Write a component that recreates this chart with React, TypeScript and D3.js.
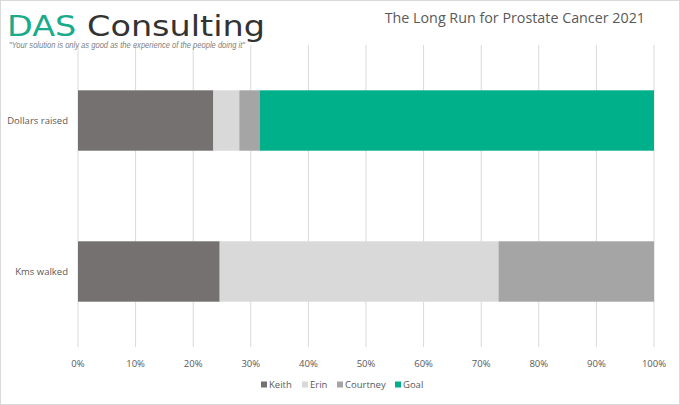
import React, { useEffect, useRef } from "react";
import * as d3 from "d3";

const categories = ["Dollars raised", "Kms walked"];
const seriesNames = ["Keith", "Erin", "Courtney", "Goal"];
const colors = ["#767171", "#d9d9d9", "#a5a5a5", "#00b08b"];
// share of each row, in percent
const keith = [23.5, 24.6];
const erin = [4.5, 48.4];
const courtney = [3.6, 27.0];
const goal = [68.4, 0];
const ticks = [0, 0.1, 0.2, 0.3, 0.4, 0.5, 0.6, 0.7, 0.8, 0.9, 1];

const W = 680;
const H = 405;

export default function App() {
  const svgRef = useRef(null);

  useEffect(() => {
    document.body.style.margin = "0";
    const svg = d3.select(svgRef.current);
    svg.selectAll("*").remove();

    const font = "'Open Sans', 'Noto Sans', sans-serif";
    const m = { left: 78, right: 26, top: 45, bottom: 58 };

    svg
      .append("rect")
      .attr("x", 0.5)
      .attr("y", 0.5)
      .attr("width", W - 1)
      .attr("height", H - 1)
      .attr("fill", "#fff")
      .attr("stroke", "#d9d9d9");

    const x = d3.scaleLinear().domain([0, 1]).range([m.left, W - m.right]);
    const y = d3
      .scaleBand()
      .domain(categories)
      .range([m.top, H - m.bottom])
      .paddingInner(0.6)
      .paddingOuter(0.3);

    // gridlines
    svg
      .append("g")
      .selectAll("line")
      .data(ticks)
      .join("line")
      .attr("x1", (d) => x(d))
      .attr("x2", (d) => x(d))
      .attr("y1", m.top)
      .attr("y2", H - m.bottom)
      .attr("stroke", "#d9d9d9")
      .attr("stroke-width", 1);

    // stacked rows
    const rows = categories.map((c, i) => ({
      cat: c,
      Keith: keith[i],
      Erin: erin[i],
      Courtney: courtney[i],
      Goal: goal[i],
    }));
    const stack = d3.stack().keys(seriesNames).offset(d3.stackOffsetExpand);
    const layers = stack(rows);

    svg
      .append("g")
      .selectAll("g")
      .data(layers)
      .join("g")
      .attr("fill", (d, i) => colors[i])
      .selectAll("rect")
      .data((d) => d)
      .join("rect")
      .attr("x", (d) => x(d[0]))
      .attr("width", (d) => Math.max(0, x(d[1]) - x(d[0])))
      .attr("y", (d) => y(d.data.cat))
      .attr("height", y.bandwidth());

    // category labels
    svg
      .append("g")
      .selectAll("text")
      .data(categories)
      .join("text")
      .attr("x", m.left - 10)
      .attr("y", (d) => y(d) + y.bandwidth() / 2)
      .attr("dy", "0.35em")
      .attr("text-anchor", "end")
      .attr("font-family", font)
      .attr("font-size", 9.5)
      .attr("fill", "#595959")
      .text((d) => d);

    // x tick labels
    svg
      .append("g")
      .selectAll("text")
      .data(ticks)
      .join("text")
      .attr("x", (d) => x(d))
      .attr("y", H - m.bottom + 20)
      .attr("text-anchor", "middle")
      .attr("font-family", font)
      .attr("font-size", 9.5)
      .attr("fill", "#595959")
      .text((d) => d3.format(".0%")(d));

    // legend
    const legendX = [261, 302, 337, 395];
    const lg = svg
      .append("g")
      .selectAll("g")
      .data(seriesNames)
      .join("g")
      .attr("transform", (d, i) => `translate(${legendX[i]},385)`);
    lg.append("rect")
      .attr("x", 0)
      .attr("y", -3.5)
      .attr("width", 6)
      .attr("height", 6)
      .attr("fill", (d, i) => colors[i]);
    lg.append("text")
      .attr("x", 8)
      .attr("dy", "0.35em")
      .attr("font-family", font)
      .attr("font-size", 9.5)
      .attr("fill", "#595959")
      .text((d) => d);

    // title
    svg
      .append("text")
      .attr("x", 645)
      .attr("y", 23)
      .attr("text-anchor", "end")
      .attr("font-family", font)
      .attr("font-size", 14.3)
      .attr("fill", "#595959")
      .text("The Long Run for Prostate Cancer 2021");

    // logo
    const logo = svg
      .append("text")
      .attr("x", 7)
      .attr("y", 36)
      .attr("font-family", "'DejaVu Sans', sans-serif")
      .attr("font-size", 29)
      .attr("textLength", 258)
      .attr("lengthAdjust", "spacingAndGlyphs");
    logo.append("tspan").attr("fill", "#1aab8a").text("DAS ");
    logo.append("tspan").attr("fill", "#333333").text("Consulting");

    svg
      .append("text")
      .attr("x", 9)
      .attr("y", 48)
      .attr("font-family", "'Liberation Sans Narrow', 'Liberation Sans', sans-serif")
      .attr("font-style", "italic")
      .attr("font-size", 9)
      .attr("fill", "#808080")
      .attr("textLength", 236)
      .attr("lengthAdjust", "spacingAndGlyphs")
      .text('"Your solution is only as good as the experience of the people doing it"');
  }, []);

  return (
    <div style={{ position: "absolute", left: 0, top: 0 }}>
      <svg ref={svgRef} width={W} height={H} style={{ display: "block" }} />
    </div>
  );
}
